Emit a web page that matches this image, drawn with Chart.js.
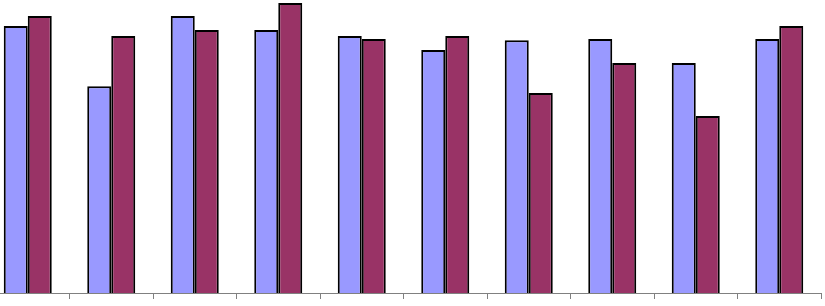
<!DOCTYPE html>
<html>
<head>
<meta charset="utf-8">
<script src="https://cdn.jsdelivr.net/npm/chart.js@4"></script>
<style>
  body { margin: 0; overflow: hidden; background: #fff; }
  #wrap { position: absolute; left: -14px; top: 0; }
</style>
</head>
<body>
<div id="wrap"><canvas id="grafico" width="838" height="306"></canvas></div>
<script>
// dados (escala 0-100)
const categorias = ['1', '2', '3', '4', '5', '6', '7', '8', '9', '10'];
const serieA = [91.1, 70.6, 94.5, 89.8, 87.7, 82.9, 86.3, 86.7, 78.5, 86.7];
const serieB = [94.5, 87.7, 89.8, 99.0, 86.7, 87.7, 68.3, 78.5, 60.4, 91.1];

const ctx = document.getElementById('grafico').getContext('2d');
new Chart(ctx, {
    type: 'bar',
    data: {
        labels: categorias,
        datasets: [
            {
                label: 'Série 1',
                data: serieA,
                backgroundColor: '#9999FF',
                borderColor: '#000000',
                borderWidth: 2,
                categoryPercentage: 0.575,
                barPercentage: 1
            },
            {
                label: 'Série 2',
                data: serieB,
                backgroundColor: '#993366',
                borderColor: '#000000',
                borderWidth: 2,
                categoryPercentage: 0.575,
                barPercentage: 1
            }
        ]
    },
    options: {
        responsive: false,
        animation: false,
        layout: { padding: { top: 0, bottom: 7, left: 0, right: 3 } },
        plugins: { legend: { display: false }, tooltip: { enabled: false } },
        scales: {
            y: { display: false, min: 0, max: 100 },
            x: {
                grid: { drawOnChartArea: false, color: '#808080', tickLength: 6 },
                border: { color: '#808080', width: 1 },
                ticks: { display: false }
            }
        }
    }
});
</script>
</body>
</html>
